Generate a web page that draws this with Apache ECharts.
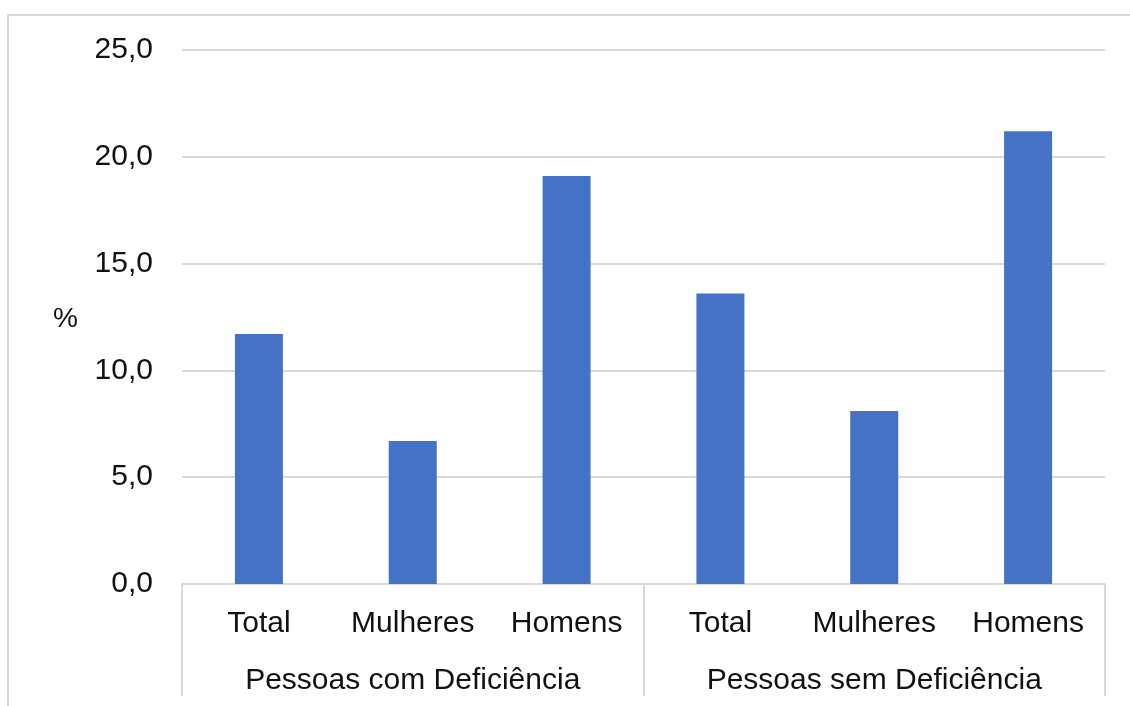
<!DOCTYPE html>
<html>
<head>
<meta charset="utf-8">
<style>
  html, body { margin: 0; padding: 0; background: #fff; }
  #chart { width: 1130px; height: 706px; }
</style>
<script src="https://cdn.jsdelivr.net/npm/echarts@6/dist/echarts.min.js"></script>
</head>
<body>
<div id="chart"></div>
<script>
// Inner categories (first axis level) and outer groups (second level)
const categories = ['Total', 'Mulheres', 'Homens', 'Total', 'Mulheres', 'Homens'];
const groups = ['Pessoas com Deficiência', 'Pessoas sem Deficiência'];
// Percent values per category
const values = [11.7, 6.7, 19.1, 13.6, 8.1, 21.2];
const yTicks = { min: 0, max: 25, interval: 5 };

const FONT = '"Liberation Sans", Arial, sans-serif';
const TEXT = '#111111';
const LINE = '#d9d9d9';
const FS = 30;

const chart = echarts.init(document.getElementById('chart'), null, { renderer: 'canvas' });

chart.setOption({
  animation: false,
  backgroundColor: '#fff',
  textStyle: { fontFamily: FONT },
  grid: { left: 182, right: 25, top: 50, bottom: 122, containLabel: false },
  graphic: [
    {
      type: 'rect',
      shape: { x: 8, y: 15, width: 1200, height: 800 },
      style: { fill: 'none', stroke: LINE, lineWidth: 2 },
      silent: true
    },
    {
      type: 'text',
      left: 53,
      top: 305,
      style: { text: '%', fontSize: 28, fontFamily: FONT, fill: TEXT }
    }
  ],
  xAxis: [
    {
      type: 'category',
      data: categories,
      position: 'bottom',
      axisLine: { show: true, lineStyle: { color: LINE, width: 2 } },
      axisTick: { show: false },
      axisLabel: { color: TEXT, fontSize: FS, fontFamily: FONT, margin: 25, interval: 0 }
    },
    {
      type: 'category',
      data: groups,
      position: 'bottom',
      axisLine: { show: false },
      axisTick: { show: true, length: 112, lineStyle: { color: LINE, width: 2 } },
      axisLabel: { color: TEXT, fontSize: FS, fontFamily: FONT, margin: 82, interval: 0 },
      splitLine: { show: false }
    }
  ],
  yAxis: {
    type: 'value',
    min: yTicks.min,
    max: yTicks.max,
    interval: yTicks.interval,
    axisLine: { show: false },
    axisTick: { show: false },
    splitLine: { lineStyle: { color: LINE, width: 2 } },
    axisLabel: {
      color: TEXT,
      fontSize: FS,
      fontFamily: FONT,
      margin: 29,
      formatter: v => v.toFixed(1).replace('.', ',')
    }
  },
  series: [
    {
      type: 'bar',
      xAxisIndex: 0,
      data: values,
      barWidth: 48,
      itemStyle: { color: '#4472C4' }
    }
  ]
});
</script>
</body>
</html>
